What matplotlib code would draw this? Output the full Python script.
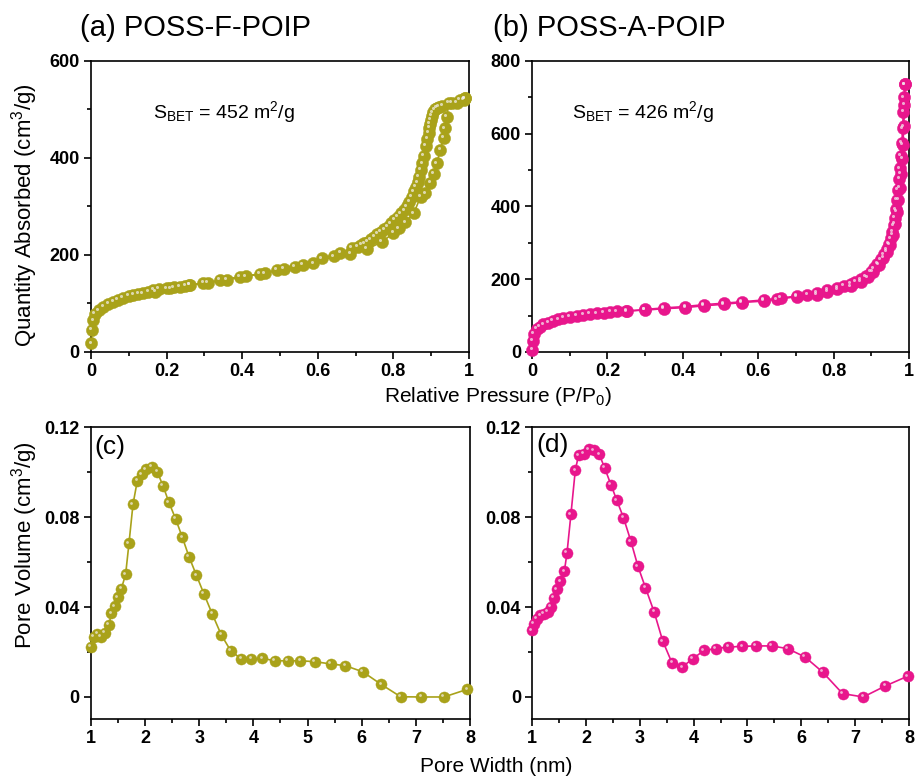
import matplotlib
matplotlib.use('Agg')
import matplotlib.pyplot as plt
import matplotlib.transforms as mtransforms
from matplotlib.ticker import MultipleLocator

plt.rcParams['font.family'] = ['Liberation Sans', 'DejaVu Sans']
plt.rcParams['mathtext.default'] = 'regular'

olive = '#A9A21A'
pink = '#E8168C'

# (a) POSS-F-POIP isotherm
a_ads_p = [0.001, 0.003, 0.006, 0.01, 0.02, 0.033, 0.046, 0.059, 0.072, 0.085,
           0.1, 0.112, 0.125, 0.138, 0.152, 0.165, 0.18, 0.2, 0.22, 0.235,
           0.25, 0.262, 0.297, 0.341, 0.394, 0.447, 0.491, 0.54, 0.588, 0.642,
           0.686, 0.73, 0.77, 0.80, 0.814, 0.832, 0.854, 0.872, 0.885, 0.898,
           0.907, 0.915, 0.924, 0.933, 0.937, 0.942, 0.946, 0.968, 0.986, 0.99]
a_ads_v = [18, 45, 65, 78, 86, 93, 99, 104, 108, 111,
           115, 118, 120, 121, 124, 128, 130, 131, 133, 134,
           136, 138, 142, 148, 155, 161, 169, 176, 183, 197,
           202, 212, 227, 245, 255, 267, 286, 320, 327, 348,
           368, 389, 417, 441, 461, 485, 513, 513, 520, 523]
a_des_p = [0.99, 0.975, 0.955, 0.93, 0.921, 0.915, 0.91, 0.905, 0.902, 0.899,
           0.897, 0.895, 0.893, 0.890, 0.886, 0.881, 0.877, 0.873, 0.868, 0.864,
           0.860, 0.855, 0.849, 0.842, 0.836, 0.829, 0.820, 0.811, 0.803, 0.794,
           0.785, 0.776, 0.767, 0.758, 0.750, 0.741, 0.732, 0.723, 0.715, 0.706,
           0.69, 0.66, 0.61, 0.56, 0.51, 0.46, 0.41, 0.36, 0.31, 0.26,
           0.21, 0.17]
a_des_v = [523, 520, 514, 508, 505, 503, 500, 494, 487, 478,
           470, 462, 452, 440, 425, 405, 389, 375, 361, 350,
           341, 331, 320, 310, 300, 292, 286, 279, 272, 265,
           258, 253, 248, 243, 238, 232, 227, 224, 221, 217,
           214, 205, 193, 180, 172, 162, 156, 149, 143, 138,
           131, 124]

# (b) POSS-A-POIP isotherm
b_ads_p = [0.0005, 0.002, 0.005, 0.012, 0.02, 0.03, 0.043, 0.056, 0.07, 0.083,
           0.1, 0.118, 0.136, 0.154, 0.172, 0.19, 0.208, 0.225, 0.25, 0.30,
           0.349, 0.407, 0.455, 0.508, 0.557, 0.615, 0.65, 0.703, 0.756, 0.783,
           0.81, 0.845, 0.872, 0.89, 0.905, 0.92, 0.932, 0.942, 0.95, 0.957,
           0.963, 0.968, 0.972, 0.976, 0.979, 0.982, 0.984, 0.986, 0.988, 0.989]
b_ads_v = [5, 30, 50, 64, 70, 76, 81, 86, 90, 94,
           97, 100, 102, 104, 106, 108, 110, 112, 113, 115,
           119, 122, 127, 131, 136, 140, 145, 152, 158, 165,
           172, 180, 192, 205, 220, 240, 258, 275, 295, 322,
           352, 385, 418, 452, 490, 530, 570, 620, 680, 736]
b_des_p = [0.989, 0.987, 0.985, 0.983, 0.981, 0.978, 0.976, 0.974, 0.971, 0.968,
           0.965, 0.962, 0.959, 0.956, 0.952, 0.947, 0.941, 0.934, 0.925, 0.916,
           0.907, 0.898, 0.885, 0.872, 0.858, 0.845, 0.828, 0.81, 0.783, 0.756,
           0.73, 0.703, 0.66, 0.615, 0.557, 0.508, 0.455, 0.407, 0.349, 0.3,
           0.252]
b_des_v = [736, 700, 660, 615, 575, 540, 505, 475, 445, 418,
           392, 368, 348, 330, 312, 297, 282, 268, 255, 243,
           230, 220, 208, 200, 193, 187, 181, 176, 170, 162,
           158, 154, 148, 143, 138, 134, 130, 125, 121, 117,
           112]

# (c) pore size distribution POSS-F-POIP
c_w = [1.0, 1.055, 1.117, 1.18, 1.259, 1.333, 1.375, 1.437, 1.499, 1.56,
       1.64, 1.702, 1.776, 1.855, 1.936, 2.01, 2.12, 2.225, 2.33, 2.44,
       2.565, 2.687, 2.81, 2.946, 3.087, 3.24, 3.407, 3.58, 3.777, 3.96,
       4.165, 4.39, 4.63, 4.87, 5.13, 5.43, 5.7, 6.02, 6.36, 6.72,
       7.1, 7.52, 7.95]
c_v = [0.0224, 0.0268, 0.028, 0.0268, 0.0286, 0.032, 0.0372, 0.0404, 0.0443, 0.048,
       0.0545, 0.0683, 0.0856, 0.096, 0.0991, 0.1013, 0.1024, 0.1001, 0.0939, 0.0865,
       0.0791, 0.071, 0.0624, 0.0542, 0.0458, 0.0369, 0.0276, 0.0206, 0.0169, 0.0169,
       0.0172, 0.0161, 0.0161, 0.0161, 0.0157, 0.0147, 0.0139, 0.0112, 0.0056, 0.0001,
       0.0, 0.0, 0.0034]

# (d) pore size distribution POSS-A-POIP
d_w = [1.0, 1.03, 1.093, 1.154, 1.216, 1.29, 1.352, 1.40, 1.463, 1.525,
       1.6, 1.649, 1.722, 1.803, 1.864, 1.957, 2.05, 2.142, 2.247, 2.346,
       2.464, 2.575, 2.698, 2.835, 2.965, 3.106, 3.267, 3.428, 3.60, 3.786,
       3.984, 4.194, 4.41, 4.645, 4.9, 5.15, 5.45, 5.746, 6.067, 6.395,
       6.766, 7.15, 7.56, 7.98]
d_v = [0.0297, 0.0326, 0.0348, 0.0363, 0.037, 0.0378, 0.040, 0.0442, 0.0479, 0.0514,
       0.0559, 0.064, 0.0812, 0.1008, 0.1075, 0.1082, 0.1101, 0.1097, 0.1079, 0.102,
       0.0944, 0.0874, 0.0797, 0.0693, 0.0582, 0.0486, 0.0378, 0.0248, 0.0151, 0.0133,
       0.017, 0.0207, 0.0215, 0.0222, 0.0225, 0.0227, 0.0227, 0.0215, 0.0178, 0.0111,
       0.0015, 0.0, 0.0049, 0.0093]


def balls(ax, x, y, color, ms):
    # line + ball markers with a small highlight to mimic the shaded spheres
    ax.plot(x, y, '-', color=color, lw=1.2, zorder=2)
    ax.plot(x, y, 'o', color=color, ms=ms, mec=color, mew=0.3, zorder=3, clip_on=False)
    hl = mtransforms.offset_copy(ax.transData, fig=ax.figure, x=-ms * 0.14, y=ms * 0.14, units='points')
    ax.plot(x, y, 'o', color='#F4F0F0', ms=ms * 0.25, mew=0, alpha=0.7, transform=hl, zorder=4, clip_on=False)


def style(ax):
    for s in ax.spines.values():
        s.set_linewidth(1.2)
    ax.tick_params(which='major', direction='out', length=5, width=1.2, labelsize=13, pad=3)
    ax.tick_params(which='minor', direction='out', length=3, width=1.2)
    for lab in ax.get_xticklabels() + ax.get_yticklabels():
        lab.set_fontweight('bold')


fig = plt.figure(figsize=(9.17, 7.78), dpi=100)
ax_a = fig.add_axes([0.0992, 0.5476, 0.4122, 0.374])
ax_b = fig.add_axes([0.5802, 0.5476, 0.4111, 0.374])
ax_c = fig.add_axes([0.0992, 0.0758, 0.4133, 0.3753])
ax_d = fig.add_axes([0.5802, 0.0758, 0.4111, 0.3753])

balls(ax_a, a_ads_p, a_ads_v, olive, 8.8)
balls(ax_a, a_des_p, a_des_v, olive, 8.8)
balls(ax_b, b_ads_p, b_ads_v, pink, 8.8)
balls(ax_b, b_des_p, b_des_v, pink, 8.8)
balls(ax_c, c_w, c_v, olive, 8)
balls(ax_d, d_w, d_v, pink, 8)

for ax, top, step in [(ax_a, 600, 200), (ax_b, 800, 200)]:
    ax.set_xlim(0, 1)
    ax.set_ylim(0, top)
    ax.xaxis.set_minor_locator(MultipleLocator(0.1))
    ax.yaxis.set_major_locator(MultipleLocator(step))
    ax.yaxis.set_minor_locator(MultipleLocator(step / 2))
    ax.set_xticks([0, 0.2, 0.4, 0.6, 0.8, 1.0])
    ax.set_xticklabels(['0', '0.2', '0.4', '0.6', '0.8', '1'])

for ax in (ax_c, ax_d):
    ax.set_xlim(1, 8)
    ax.set_ylim(-0.0098, 0.12)
    ax.xaxis.set_major_locator(MultipleLocator(1))
    ax.xaxis.set_minor_locator(MultipleLocator(0.5))
    ax.set_yticks([0, 0.04, 0.08, 0.12])
    ax.set_yticklabels(['0', '0.04', '0.08', '0.12'])
    ax.yaxis.set_minor_locator(MultipleLocator(0.02))

for ax in (ax_a, ax_b, ax_c, ax_d):
    style(ax)

ax_a.text(0.164, 0.825, r'S$_{BET}$ = 452 m$^{2}$/g', transform=ax_a.transAxes,
          fontsize=14, va='center', ha='left')
ax_b.text(0.105, 0.823, r'S$_{BET}$ = 426 m$^{2}$/g', transform=ax_b.transAxes,
          fontsize=14, va='center', ha='left')
ax_c.text(0.008, 0.932, '(c)', transform=ax_c.transAxes, fontsize=19, va='center', ha='left')
ax_d.text(0.012, 0.938, '(d)', transform=ax_d.transAxes, fontsize=19, va='center', ha='left')

fig.text(0.0872, 0.964, '(a) POSS-F-POIP', fontsize=21, va='center', ha='left')
fig.text(0.5376, 0.964, '(b) POSS-A-POIP', fontsize=21, va='center', ha='left')

fig.text(25 / 917, 1 - 215 / 778, r'Quantity Absorbed (cm$^{3}$/g)', rotation=90,
         fontsize=16, va='center', ha='center')
fig.text(25 / 917, 1 - 545 / 778, r'Pore Volume (cm$^{3}$/g)', rotation=90,
         fontsize=16, va='center', ha='center')
fig.text(498 / 917, 1 - 397 / 778, r'Relative Pressure (P/P$_{0}$)', fontsize=15,
         va='center', ha='center')
fig.text(496 / 917, 1 - 767 / 778, 'Pore Width (nm)', fontsize=15, va='center', ha='center')

fig.savefig('out.png', dpi=100)
